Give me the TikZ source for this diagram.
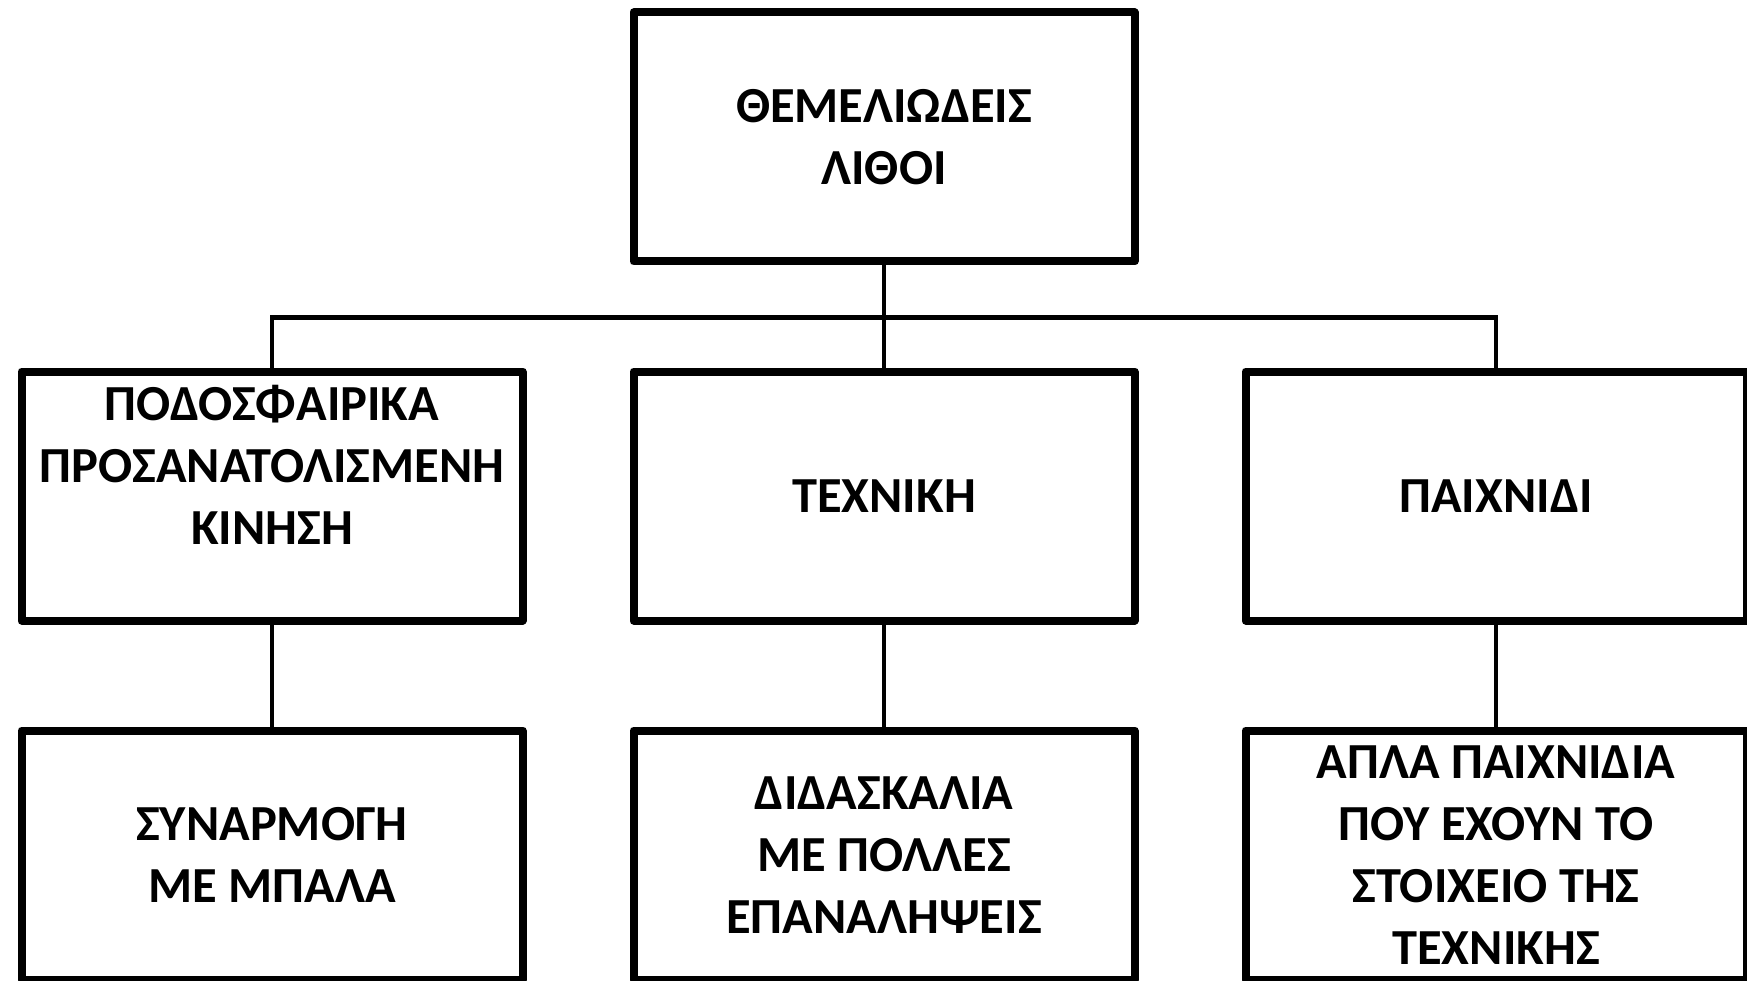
\documentclass[tikz,border=0pt]{standalone}
\usepackage{fontspec}
\setmainfont{Carlito}
\begin{document}
\begin{tikzpicture}[x=1pt,y=-1pt,
  box/.style={draw=black,line width=8pt,line join=round,fill=white,
    minimum width=501pt,minimum height=249pt,inner sep=0pt,align=center,
    font=\fontsize{50.5}{62}\selectfont\bfseries},
  link/.style={draw=black,line width=4.5pt}]
\useasboundingbox (0,0) rectangle (1747,981);
\clip (0,0) rectangle (1747,981);
\fill[white] (0,0) rectangle (1747,981);
\coordinate (bus) at (0,317.5);
\node[box] (top) at (884,137) {ΘΕΜΕΛΙΩΔΕΙΣ\\ΛΙΘΟΙ};
\node[box] (l) at (272,496) {ΠΟΔΟΣΦΑΙΡΙΚΑ\\ΠΡΟΣΑΝΑΤΟΛΙΣΜΕΝΗ\\ΚΙΝΗΣΗ\\\mbox{}};
\node[box] (m) at (884,496) {ΤΕΧΝΙΚΗ};
\node[box] (r) at (1496,496) {ΠΑΙΧΝΙΔΙ};
\node[box] (l2) at (272,855) {ΣΥΝΑΡΜΟΓΗ\\ΜΕ ΜΠΑΛΑ};
\node[box] (m2) at (884,855) {ΔΙΔΑΣΚΑΛΙΑ\\ΜΕ ΠΟΛΛΕΣ\\ΕΠΑΝΑΛΗΨΕΙΣ};
\node[box] (r2) at (1496,855) {ΑΠΛΑ ΠΑΙΧΝΙΔΙΑ\\ΠΟΥ ΕΧΟΥΝ ΤΟ\\ΣΤΟΙΧΕΙΟ ΤΗΣ\\ΤΕΧΝΙΚΗΣ};
\draw[link] (top.south) -- (m.north);
\draw[link] (l.north) -- (l.north |- bus) -- (r.north |- bus) -- (r.north);
\draw[link] (l.south) -- (l2.north);
\draw[link] (m.south) -- (m2.north);
\draw[link] (r.south) -- (r2.north);
\end{tikzpicture}
\end{document}
